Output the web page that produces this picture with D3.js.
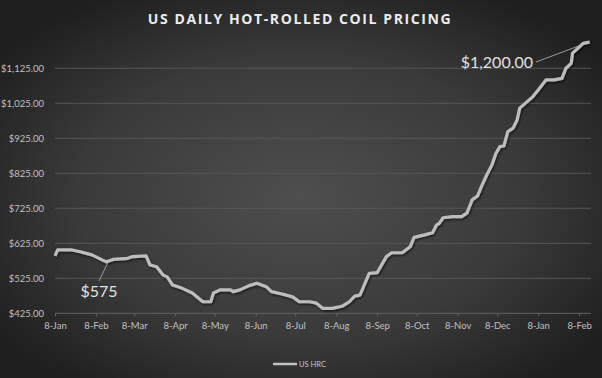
<!DOCTYPE html>
<html><head><meta charset="utf-8">
<script src="https://cdn.jsdelivr.net/npm/d3@7"></script>
<style>html,body{margin:0;padding:0;background:#2a2a2a;}svg{display:block;}</style>
</head><body>
<script>
const title = "US DAILY HOT-ROLLED COIL PRICING";
const seriesName = "US HRC";
const dates = ["2020-01-08","2020-01-10","2020-01-21","2020-01-27","2020-02-05","2020-02-13","2020-02-16","2020-02-21","2020-03-03","2020-03-07","2020-03-17","2020-03-20","2020-03-25","2020-03-30","2020-04-02","2020-04-06","2020-04-13","2020-04-21","2020-04-29","2020-05-05","2020-05-07","2020-05-12","2020-05-20","2020-05-22","2020-05-27","2020-06-03","2020-06-09","2020-06-16","2020-06-20","2020-06-28","2020-07-06","2020-07-11","2020-07-19","2020-07-24","2020-07-29","2020-08-05","2020-08-13","2020-08-18","2020-08-22","2020-08-26","2020-09-02","2020-09-08","2020-09-15","2020-09-19","2020-09-27","2020-10-03","2020-10-06","2020-10-14","2020-10-20","2020-10-23","2020-10-25","2020-10-28","2020-11-04","2020-11-11","2020-11-15","2020-11-17","2020-11-19","2020-11-23","2020-11-26","2020-11-30","2020-12-04","2020-12-07","2020-12-10","2020-12-13","2020-12-16","2020-12-20","2020-12-23","2020-12-25","2021-01-04","2021-01-08","2021-01-14","2021-01-20","2021-01-26","2021-01-29","2021-02-02","2021-02-03","2021-02-07","2021-02-11","2021-02-16"];
const prices = [589,606,606,601,592,577,572,579,582,587,589,563,558,534,529,506,497,483,458,458,483,492,492,487,492,504,511,501,487,480,472,458,458,454,439,439,446,458,474,477,539,541,587,598,598,615,642,649,655,677,682,698,701,701,711,730,749,760,787,820,849,882,901,903,944,954,977,1011,1044,1063,1092,1092,1096,1125,1139,1168,1182,1196,1200];
const yTicks = [425,525,625,725,825,925,1025,1125];
const xTickDates = ["2020-01-08","2020-02-08","2020-03-08","2020-04-08","2020-05-08","2020-06-08","2020-07-08","2020-08-08","2020-09-08","2020-10-08","2020-11-08","2020-12-08","2021-01-08","2021-02-08"];
const annotations = [
  {label:"$575", date:"2020-02-17", value:575},
  {label:"$1,200.00", date:"2021-02-10", value:1192}
];

const W = 602, H = 378;
const parse = d3.timeParse("%Y-%m-%d");
const data = dates.map((d,i)=>({date:parse(d), value:prices[i]}));

const svg = d3.select("body").append("svg").attr("width",W).attr("height",H);
const defs = svg.append("defs");
const rg = defs.append("radialGradient").attr("id","bg").attr("cx","50%").attr("cy","52%").attr("r","62%");
rg.append("stop").attr("offset","0%").attr("stop-color","#4e4e4e");
rg.append("stop").attr("offset","60%").attr("stop-color","#3a3a3a");
rg.append("stop").attr("offset","100%").attr("stop-color","#1f1f1f");
const f = defs.append("filter").attr("id","shadow").attr("x","-5%").attr("y","-5%").attr("width","110%").attr("height","110%");
f.append("feDropShadow").attr("dx",1).attr("dy",1.5).attr("stdDeviation",1.2).attr("flood-color","#000").attr("flood-opacity",0.6);

svg.append("rect").attr("width",W).attr("height",H).attr("fill","url(#bg)");

const x = d3.scaleTime().domain([parse("2020-01-08"), parse("2021-02-17")]).range([55, 591]);
const y = d3.scaleLinear().domain([425, 1200]).range([313.3, 42]);

// gridlines
svg.append("g").selectAll("line").data(yTicks.filter(v=>v>425)).join("line")
  .attr("x1",55).attr("x2",591).attr("y1",d=>y(d)).attr("y2",d=>y(d))
  .attr("stroke","#575757").attr("stroke-width",1);

// y axis labels
const yAxis = d3.axisLeft(y).tickValues(yTicks).tickSize(0).tickPadding(0)
  .tickFormat(d=>"$"+d3.format(",.2f")(d));
const gy = svg.append("g").attr("transform","translate(44,0)").call(yAxis);
gy.select(".domain").remove();
gy.selectAll("text").attr("fill","#c0c0c0").attr("font-size","9.5px").attr("font-family","Lato, 'Open Sans', sans-serif");

// x axis
const xAxis = d3.axisBottom(x).tickValues(xTickDates.map(parse)).tickSize(3).tickPadding(6)
  .tickFormat(d3.timeFormat("%-d-%b"));
const gx = svg.append("g").attr("transform","translate(0,313.3)").call(xAxis);
gx.select(".domain").attr("stroke","#636363").attr("d","M55,0H591");
gx.selectAll(".tick line").attr("stroke","#636363");
gx.selectAll("text").attr("fill","#c0c0c0").attr("font-size","9.5px").attr("font-family","Lato, 'Open Sans', sans-serif");

// line
const line = d3.line().x(d=>x(d.date)).y(d=>y(d.value));
svg.append("path").datum(data).attr("d",line).attr("fill","none")
  .attr("stroke","#bdbdbd").attr("stroke-width",3.2).attr("stroke-linejoin","round")
  .attr("filter","url(#shadow)");

// annotations
const a1 = annotations[0];
svg.append("line").attr("x1",99).attr("y1",281).attr("x2",x(parse(a1.date))).attr("y2",y(a1.value)+2)
  .attr("stroke","#b8b8b8").attr("stroke-width",0.8);
svg.append("text").attr("x",99).attr("y",297).attr("text-anchor","middle")
  .attr("fill","#e2e2e2").attr("font-size","16px").attr("font-family","Lato, 'Open Sans', sans-serif").text(a1.label);
const a2 = annotations[1];
svg.append("line").attr("x1",536).attr("y1",62).attr("x2",x(parse(a2.date))).attr("y2",y(a2.value))
  .attr("stroke","#b8b8b8").attr("stroke-width",0.8);
svg.append("text").attr("x",533).attr("y",68).attr("text-anchor","end")
  .attr("fill","#e2e2e2").attr("font-size","16px").attr("font-family","Lato, 'Open Sans', sans-serif").text(a2.label);

// title
svg.append("text").attr("x",300).attr("y",24).attr("text-anchor","middle")
  .attr("fill","#ececec").attr("font-size","14px").attr("font-weight","bold")
  .attr("font-family","'Open Sans', Lato, sans-serif").attr("letter-spacing","1.6px")
  .text(title);

// legend
svg.append("line").attr("x1",273).attr("x2",297).attr("y1",364).attr("y2",364)
  .attr("stroke","#c2c2c2").attr("stroke-width",2.5);
svg.append("text").attr("x",299).attr("y",366.5).attr("fill","#c4c4c4")
  .attr("font-size","7.5px").attr("font-family","Lato, 'Open Sans', sans-serif").text(seriesName);
</script>
</body></html>
